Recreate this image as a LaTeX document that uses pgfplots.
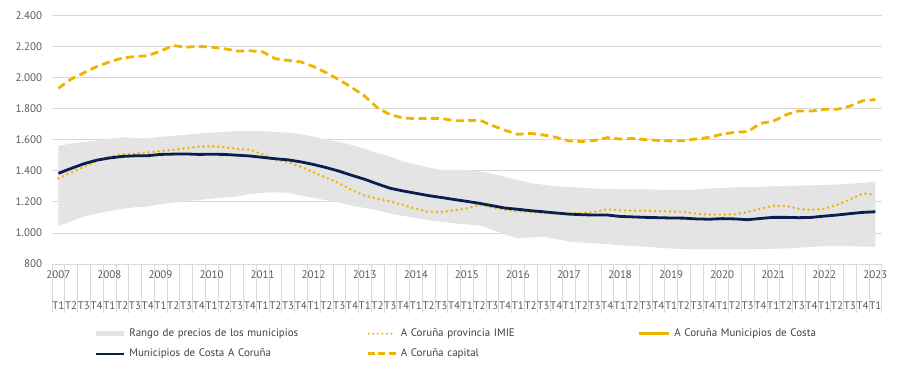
\documentclass[border=0pt]{standalone}
\usepackage{fontspec}
\setmainfont{PT Sans}
\usepackage{pgfplots}
\usepackage{pgfplotstable}
\pgfplotsset{compat=1.18}
\usepgfplotslibrary{fillbetween}
\definecolor{gold}{HTML}{F0B400}
\definecolor{navy}{HTML}{0C1E4E}
\definecolor{band}{HTML}{E4E4E4}
\definecolor{txt}{HTML}{595959}
\definecolor{legtxt}{HTML}{404040}
\definecolor{grd}{HTML}{D9D9D9}
\tikzset{yr/.style={font=\fontsize{11}{13}\selectfont, text=txt, anchor=center, yshift=-11bp}}

\pgfplotstableread{
i lo up imie navy cap
0 1045 1560 1351 1383 1930
1 1075 1575 1390 1415 1990
2 1105 1585 1425 1445 2030
3 1125 1595 1460 1468 2070
4 1140 1605 1490 1482 2100
5 1155 1615 1505 1492 2125
6 1165 1610 1510 1496 2135
7 1170 1608 1518 1497 2140
8 1185 1618 1525 1505 2170
9 1195 1625 1535 1507 2205
10 1205 1632 1545 1508 2195
11 1212 1640 1555 1505 2200
12 1220 1645 1558 1506 2195
13 1228 1650 1552 1505 2185
14 1235 1655 1540 1500 2170
15 1250 1656 1535 1495 2172
16 1258 1655 1505 1486 2165
17 1262 1650 1470 1477 2120
18 1258 1645 1455 1470 2110
19 1240 1635 1425 1457 2100
20 1225 1620 1390 1440 2070
21 1210 1600 1355 1420 2030
22 1195 1585 1320 1397 1985
23 1175 1565 1275 1370 1935
24 1160 1540 1240 1345 1880
25 1145 1515 1220 1315 1805
26 1125 1490 1203 1287 1760
27 1110 1460 1180 1270 1740
28 1095 1440 1155 1255 1735
29 1082 1420 1135 1240 1737
30 1072 1405 1135 1228 1737
31 1062 1405 1145 1215 1722
32 1055 1405 1158 1203 1722
33 1048 1395 1182 1190 1726
34 1020 1380 1165 1175 1690
35 990 1360 1148 1160 1660
36 965 1340 1140 1152 1634
37 970 1320 1135 1143 1640
38 976 1310 1128 1136 1630
39 960 1300 1126 1128 1615
40 945 1295 1126 1121 1592
41 938 1290 1128 1117 1588
42 933 1285 1135 1115 1595
43 928 1282 1152 1115 1613
44 920 1280 1146 1106 1604
45 916 1280 1143 1103 1608
46 912 1280 1143 1100 1600
47 905 1278 1140 1098 1595
48 900 1276 1138 1096 1592
49 896 1276 1135 1095 1593
50 894 1278 1123 1090 1605
51 894 1285 1118 1088 1615
52 894 1290 1117 1092 1635
53 894 1293 1120 1090 1648
54 894 1295 1135 1085 1651
55 896 1297 1155 1093 1705
56 898 1300 1175 1100 1718
57 900 1302 1174 1100 1760
58 905 1304 1155 1098 1785
59 910 1306 1148 1100 1784
60 915 1308 1155 1108 1795
61 915 1312 1180 1115 1795
62 915 1316 1215 1124 1815
63 912 1322 1253 1132 1850
64 910 1330 1246 1136 1858
}\data

\begin{document}
\begin{tikzpicture}
\begin{axis}[
  scale only axis, width=829.7bp, height=248.7bp,
  xmin=-0.5, xmax=64.5, ymin=800, ymax=2400,
  clip=false,
  axis line style={draw=none},
  xtick pos=bottom, ytick pos=left,
  ytick={800,1000,...,2400},
  ymajorgrids, major grid style={draw=grd, line width=0.8bp},
  /pgf/number format/assume math mode=true,
  y tick label style={/pgf/number format/1000 sep={.}, anchor=east, xshift=-6.5bp},
  tick label style={font=\fontsize{11}{13}\selectfont, text=txt},
  xtick={0,...,64},
  xticklabels={T1,T2,T3,T4,T1,T2,T3,T4,T1,T2,T3,T4,T1,T2,T3,T4,T1,T2,T3,T4,T1,T2,T3,T4,T1,T2,T3,T4,T1,T2,T3,T4,T1,T2,T3,T4,T1,T2,T3,T4,T1,T2,T3,T4,T1,T2,T3,T4,T1,T2,T3,T4,T1,T2,T3,T4,T1,T2,T3,T4,T1,T2,T3,T4,T1},
  x tick label style={anchor=center, yshift=-42bp},
  major tick length=0pt,
  minor xtick={-0.5,0.5,...,64.5},
  minor tick length=49bp, tick align=outside,
  minor tick style={draw=grd, line width=0.6bp},
  legend columns=3,
  legend cell align=left,
  legend style={at={(0,0)}, anchor=north west, xshift=43bp, yshift=-64bp,
    draw=none, fill=none, inner sep=0pt, font=\fontsize{11}{13}\selectfont, text=legtxt,
    column sep=0pt, row sep=9bp,
    nodes={text width=233bp, align=left, inner xsep=4bp, inner ysep=0pt, text height=8bp, text depth=3bp}},
]
\addplot[name path=up, draw=none, forget plot] table[x=i, y=up] {\data};
\addplot[name path=lo, draw=none, forget plot] table[x=i, y=lo] {\data};
\addplot[fill=band, draw=none, legend image code/.code={\fill[band] (0bp,-2.5bp) rectangle (28bp,2.5bp);}] fill between[of=up and lo];
\addlegendentry{Rango de precios de los municipios}
\addplot[gold, line width=2.8bp, line cap=round, dash pattern=on 0bp off 5bp,
  legend image code/.code={\draw[gold, line width=2.2bp, line cap=round, dash pattern=on 0bp off 4.6bp] (1bp,0bp) -- (28bp,0bp);}] table[x=i, y=imie] {\data};
\addlegendentry{A Coruña provincia IMIE}
\addlegendimage{legend image code/.code={\draw[gold, line width=2.6bp] (0bp,0bp) -- (30bp,0bp);}}
\addlegendentry{A Coruña Municipios de Costa}
\addplot[navy, line width=2.8bp, legend image code/.code={\draw[navy, line width=2.2bp] (0bp,0bp) -- (28bp,0bp);}] table[x=i, y=navy] {\data};
\addlegendentry{Municipios de Costa A Coruña}
\addplot[gold, line width=2.8bp, dash pattern=on 8bp off 4.5bp,
  legend image code/.code={\draw[gold, line width=2.4bp, dash pattern=on 7bp off 3.5bp] (0bp,0bp) -- (28bp,0bp);}] table[x=i, y=cap] {\data};
\addlegendentry{A Coruña capital}
\node[yr] at (axis cs:0,800) {2007};
\node[yr] at (axis cs:4,800) {2008};
\node[yr] at (axis cs:8,800) {2009};
\node[yr] at (axis cs:12,800) {2010};
\node[yr] at (axis cs:16,800) {2011};
\node[yr] at (axis cs:20,800) {2012};
\node[yr] at (axis cs:24,800) {2013};
\node[yr] at (axis cs:28,800) {2014};
\node[yr] at (axis cs:32,800) {2015};
\node[yr] at (axis cs:36,800) {2016};
\node[yr] at (axis cs:40,800) {2017};
\node[yr] at (axis cs:44,800) {2018};
\node[yr] at (axis cs:48,800) {2019};
\node[yr] at (axis cs:52,800) {2020};
\node[yr] at (axis cs:56,800) {2021};
\node[yr] at (axis cs:60,800) {2022};
\node[yr] at (axis cs:64,800) {2023};
\end{axis}
\pgfresetboundingbox
\useasboundingbox (-52bp,-104bp) rectangle (862bp,264bp);
\end{tikzpicture}
\end{document}
